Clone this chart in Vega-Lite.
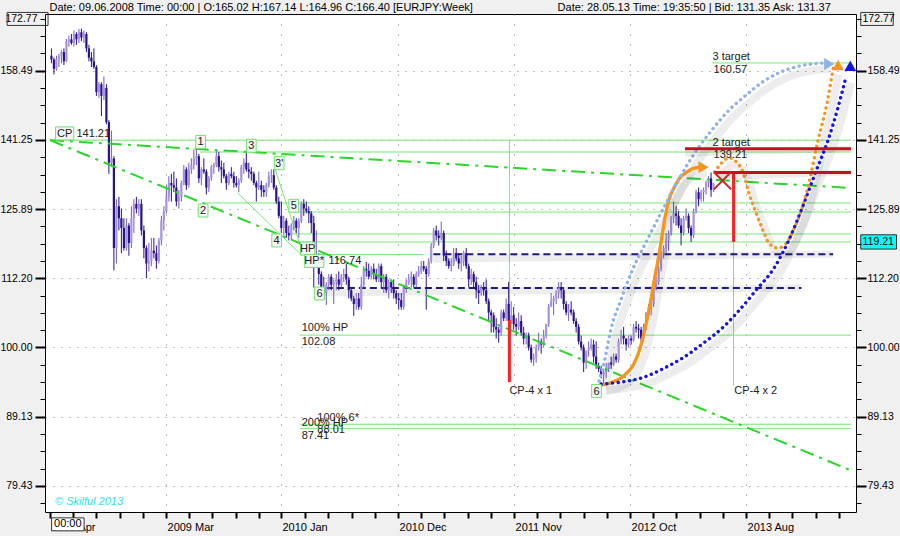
{
  "$schema": "https://vega.github.io/schema/vega-lite/v6.json",
  "width": 811,
  "height": 498,
  "autosize": "none",
  "padding": {"left": 45, "top": 14, "right": 44, "bottom": 24},
  "background": "#f0f0f0",
  "config": {
    "view": {"stroke": "#000000", "strokeWidth": 1, "fill": "#ffffff"},
    "font": "Liberation Sans",
    "text": {"font": "Liberation Sans", "fontSize": 11, "color": "#111111"}
  },
  "datasets": {
    "candles": [
      {"d":"2008-04-28","o":162.5,"h":164.5,"l":160.5,"c":161.5},
      {"d":"2008-05-05","o":161.5,"h":162,"l":157.5,"c":159},
      {"d":"2008-05-12","o":159,"h":162.5,"l":158.5,"c":161.5},
      {"d":"2008-05-19","o":161.5,"h":163,"l":159.5,"c":162.5},
      {"d":"2008-05-26","o":162.5,"h":164,"l":160.5,"c":163.5},
      {"d":"2008-06-02","o":163.5,"h":164.5,"l":160,"c":161},
      {"d":"2008-06-09","o":161,"h":167.1,"l":160.8,"c":166.4},
      {"d":"2008-06-16","o":166.4,"h":168,"l":165,"c":167},
      {"d":"2008-06-23","o":167,"h":168.5,"l":165.5,"c":166},
      {"d":"2008-06-30","o":166,"h":169.5,"l":165,"c":168.5},
      {"d":"2008-07-07","o":168.5,"h":169,"l":165.5,"c":167},
      {"d":"2008-07-14","o":167,"h":169.9,"l":166,"c":169},
      {"d":"2008-07-21","o":169,"h":170,"l":166.5,"c":167.5},
      {"d":"2008-07-28","o":167.5,"h":169.5,"l":166,"c":168.5},
      {"d":"2008-08-04","o":168.5,"h":169,"l":163.5,"c":164.5},
      {"d":"2008-08-11","o":164.5,"h":165.5,"l":161,"c":162},
      {"d":"2008-08-18","o":162,"h":163.5,"l":159.5,"c":161},
      {"d":"2008-08-25","o":161,"h":164.5,"l":159,"c":159.5},
      {"d":"2008-09-01","o":159.5,"h":160,"l":152,"c":153},
      {"d":"2008-09-08","o":153,"h":155.5,"l":151.5,"c":155},
      {"d":"2008-09-15","o":155,"h":155.5,"l":147,"c":152},
      {"d":"2008-09-22","o":152,"h":157,"l":151,"c":154},
      {"d":"2008-09-29","o":154,"h":155,"l":145,"c":145.5},
      {"d":"2008-10-06","o":145.5,"h":146,"l":133.5,"c":136},
      {"d":"2008-10-13","o":136,"h":143.5,"l":135,"c":137},
      {"d":"2008-10-20","o":137,"h":137.5,"l":113.7,"c":118},
      {"d":"2008-10-27","o":118,"h":128,"l":115,"c":126.5},
      {"d":"2008-11-03","o":126.5,"h":128.5,"l":121.5,"c":124},
      {"d":"2008-11-10","o":124,"h":126,"l":117,"c":122},
      {"d":"2008-11-17","o":122,"h":124,"l":117.5,"c":118},
      {"d":"2008-11-24","o":118,"h":124,"l":117.5,"c":122.5},
      {"d":"2008-12-01","o":122.5,"h":123,"l":116.5,"c":119},
      {"d":"2008-12-08","o":119,"h":126.5,"l":118,"c":124},
      {"d":"2008-12-15","o":124,"h":128,"l":121,"c":127},
      {"d":"2008-12-22","o":127,"h":128.5,"l":125,"c":126},
      {"d":"2008-12-29","o":126,"h":128,"l":124.5,"c":127},
      {"d":"2009-01-05","o":127,"h":128,"l":120.5,"c":121.5},
      {"d":"2009-01-12","o":121.5,"h":122.5,"l":116,"c":118},
      {"d":"2009-01-19","o":118,"h":118.5,"l":112.2,"c":115},
      {"d":"2009-01-26","o":115,"h":119,"l":113.5,"c":115.5},
      {"d":"2009-02-02","o":115.5,"h":120,"l":114.5,"c":117.5},
      {"d":"2009-02-09","o":117.5,"h":120,"l":116,"c":117},
      {"d":"2009-02-16","o":117,"h":118.5,"l":114,"c":115.5},
      {"d":"2009-02-23","o":115.5,"h":120,"l":115,"c":119.5},
      {"d":"2009-03-02","o":119.5,"h":124.5,"l":118.5,"c":123.5},
      {"d":"2009-03-09","o":123.5,"h":126.5,"l":121.5,"c":125.5},
      {"d":"2009-03-16","o":125.5,"h":131,"l":125,"c":128.5},
      {"d":"2009-03-23","o":128.5,"h":133,"l":127.5,"c":131.5},
      {"d":"2009-03-30","o":131.5,"h":133.5,"l":127.5,"c":131},
      {"d":"2009-04-06","o":131,"h":134,"l":129.5,"c":130.5},
      {"d":"2009-04-13","o":130.5,"h":132.5,"l":126.5,"c":127.5},
      {"d":"2009-04-20","o":127.5,"h":130,"l":126,"c":128.5},
      {"d":"2009-04-27","o":128.5,"h":132,"l":127.5,"c":131.5},
      {"d":"2009-05-04","o":131.5,"h":135.5,"l":131,"c":134.5},
      {"d":"2009-05-11","o":134.5,"h":135,"l":130,"c":131},
      {"d":"2009-05-18","o":131,"h":136,"l":130.5,"c":134.5},
      {"d":"2009-05-25","o":134.5,"h":137,"l":133.5,"c":135.5},
      {"d":"2009-06-01","o":135.5,"h":139,"l":134.5,"c":137},
      {"d":"2009-06-08","o":137,"h":139.5,"l":135.5,"c":137.5},
      {"d":"2009-06-15","o":137.5,"h":138,"l":131.5,"c":132.5},
      {"d":"2009-06-22","o":132.5,"h":135,"l":131,"c":134.5},
      {"d":"2009-06-29","o":134.5,"h":137,"l":133.5,"c":134},
      {"d":"2009-07-06","o":134,"h":134.5,"l":129,"c":130.5},
      {"d":"2009-07-13","o":130.5,"h":133,"l":129.5,"c":132.5},
      {"d":"2009-07-20","o":132.5,"h":135.5,"l":132,"c":135},
      {"d":"2009-07-27","o":135,"h":136,"l":133.5,"c":135.5},
      {"d":"2009-08-03","o":135.5,"h":139,"l":135,"c":137.5},
      {"d":"2009-08-10","o":137.5,"h":138.5,"l":134,"c":135},
      {"d":"2009-08-17","o":135,"h":136.5,"l":131.5,"c":134.5},
      {"d":"2009-08-24","o":134.5,"h":136,"l":132.5,"c":133},
      {"d":"2009-08-31","o":133,"h":133.5,"l":130,"c":131.5},
      {"d":"2009-09-07","o":131.5,"h":134,"l":131,"c":133.5},
      {"d":"2009-09-14","o":133.5,"h":135,"l":132.5,"c":133},
      {"d":"2009-09-21","o":133,"h":134,"l":130.5,"c":131.5},
      {"d":"2009-09-28","o":131.5,"h":133,"l":130.5,"c":131},
      {"d":"2009-10-05","o":131,"h":132.5,"l":129.5,"c":132},
      {"d":"2009-10-12","o":132,"h":135.5,"l":131.5,"c":135},
      {"d":"2009-10-19","o":135,"h":137,"l":133.5,"c":136},
      {"d":"2009-10-26","o":136,"h":138.8,"l":134,"c":134.5},
      {"d":"2009-11-02","o":134.5,"h":136,"l":132.5,"c":134},
      {"d":"2009-11-09","o":134,"h":135,"l":132,"c":133.5},
      {"d":"2009-11-16","o":133.5,"h":134,"l":131,"c":131.5},
      {"d":"2009-11-23","o":131.5,"h":132,"l":127.5,"c":130.5},
      {"d":"2009-11-30","o":130.5,"h":134,"l":130,"c":131},
      {"d":"2009-12-07","o":131,"h":132,"l":128.5,"c":130},
      {"d":"2009-12-14","o":130,"h":131,"l":128.5,"c":129.5},
      {"d":"2009-12-21","o":129.5,"h":131.5,"l":128.5,"c":131},
      {"d":"2009-12-28","o":131,"h":134,"l":130.5,"c":133},
      {"d":"2010-01-04","o":133,"h":134.5,"l":131.5,"c":133.2},
      {"d":"2010-01-11","o":133.2,"h":134.5,"l":130,"c":130.5},
      {"d":"2010-01-18","o":130.5,"h":131,"l":127,"c":127.5},
      {"d":"2010-01-25","o":127.5,"h":128.5,"l":124,"c":124.5},
      {"d":"2010-02-01","o":124.5,"h":127.5,"l":121,"c":122},
      {"d":"2010-02-08","o":122,"h":124.5,"l":120.5,"c":123.5},
      {"d":"2010-02-15","o":123.5,"h":124,"l":120,"c":121},
      {"d":"2010-02-22","o":121,"h":122.5,"l":119.5,"c":120.5},
      {"d":"2010-03-01","o":120.5,"h":123,"l":119.5,"c":122.5},
      {"d":"2010-03-08","o":122.5,"h":124.5,"l":121.5,"c":123.5},
      {"d":"2010-03-15","o":123.5,"h":124,"l":121,"c":122},
      {"d":"2010-03-22","o":122,"h":124,"l":120,"c":123.5},
      {"d":"2010-03-29","o":123.5,"h":127.5,"l":123,"c":127},
      {"d":"2010-04-05","o":127,"h":128,"l":124.5,"c":126},
      {"d":"2010-04-12","o":126,"h":127.5,"l":125,"c":125.5},
      {"d":"2010-04-19","o":125.5,"h":126.5,"l":123,"c":125},
      {"d":"2010-04-26","o":125,"h":125.5,"l":121,"c":123},
      {"d":"2010-05-03","o":123,"h":124.5,"l":110.5,"c":116},
      {"d":"2010-05-10","o":116,"h":121.5,"l":115,"c":116.5},
      {"d":"2010-05-17","o":116.5,"h":117,"l":111,"c":113},
      {"d":"2010-05-24","o":113,"h":113.5,"l":108.5,"c":110.5},
      {"d":"2010-05-31","o":110.5,"h":112.5,"l":108.5,"c":109.5},
      {"d":"2010-06-07","o":109.5,"h":111.5,"l":107.3,"c":111},
      {"d":"2010-06-14","o":111,"h":113,"l":110,"c":112.5},
      {"d":"2010-06-21","o":112.5,"h":113,"l":110,"c":111},
      {"d":"2010-06-28","o":111,"h":112,"l":107.5,"c":111.5},
      {"d":"2010-07-05","o":111.5,"h":113,"l":110,"c":112},
      {"d":"2010-07-12","o":112,"h":113.5,"l":110,"c":111},
      {"d":"2010-07-19","o":111,"h":113,"l":110.5,"c":112.5},
      {"d":"2010-07-26","o":112.5,"h":114,"l":111.5,"c":113},
      {"d":"2010-08-02","o":113,"h":115,"l":111,"c":112},
      {"d":"2010-08-09","o":112,"h":112.5,"l":108.5,"c":110},
      {"d":"2010-08-16","o":110,"h":110.5,"l":108,"c":108.5},
      {"d":"2010-08-23","o":108.5,"h":109,"l":105.4,"c":107.5},
      {"d":"2010-08-30","o":107.5,"h":109.5,"l":106.5,"c":108.5},
      {"d":"2010-09-06","o":108.5,"h":109.5,"l":106.5,"c":107},
      {"d":"2010-09-13","o":107,"h":112.5,"l":106.5,"c":111},
      {"d":"2010-09-20","o":111,"h":114.5,"l":110.5,"c":114},
      {"d":"2010-09-27","o":114,"h":115.3,"l":112.5,"c":113.6},
      {"d":"2010-10-04","o":113.6,"h":115,"l":112,"c":112.5},
      {"d":"2010-10-11","o":112.5,"h":114.5,"l":112,"c":114},
      {"d":"2010-10-18","o":114,"h":115,"l":112,"c":113},
      {"d":"2010-10-25","o":113,"h":114,"l":111.5,"c":112},
      {"d":"2010-11-01","o":112,"h":115,"l":111.5,"c":114.5},
      {"d":"2010-11-08","o":114.5,"h":115,"l":110.5,"c":111.5},
      {"d":"2010-11-15","o":111.5,"h":113,"l":109.5,"c":112.5},
      {"d":"2010-11-22","o":112.5,"h":113,"l":109.5,"c":110},
      {"d":"2010-11-29","o":110,"h":112,"l":108.5,"c":111.5},
      {"d":"2010-12-06","o":111.5,"h":112,"l":109.5,"c":110.5},
      {"d":"2010-12-13","o":110.5,"h":112,"l":108.5,"c":109.5},
      {"d":"2010-12-20","o":109.5,"h":110,"l":107.5,"c":108.5},
      {"d":"2010-12-27","o":108.5,"h":109.5,"l":106.5,"c":108.2},
      {"d":"2011-01-03","o":108.2,"h":109.5,"l":106.5,"c":107},
      {"d":"2011-01-10","o":107,"h":111,"l":106.5,"c":110.5},
      {"d":"2011-01-17","o":110.5,"h":112,"l":109.5,"c":111.5},
      {"d":"2011-01-24","o":111.5,"h":113,"l":111,"c":112},
      {"d":"2011-01-31","o":112,"h":113.5,"l":110.5,"c":112.5},
      {"d":"2011-02-07","o":112.5,"h":113,"l":110.5,"c":111},
      {"d":"2011-02-14","o":111,"h":113.5,"l":110.5,"c":113},
      {"d":"2011-02-21","o":113,"h":114.5,"l":112.5,"c":113.5},
      {"d":"2011-02-28","o":113.5,"h":115.5,"l":113,"c":114.5},
      {"d":"2011-03-07","o":114.5,"h":115.5,"l":113.5,"c":114},
      {"d":"2011-03-14","o":114,"h":114.5,"l":106.5,"c":113},
      {"d":"2011-03-21","o":113,"h":116,"l":112.5,"c":115.5},
      {"d":"2011-03-28","o":115.5,"h":119,"l":115,"c":118.5},
      {"d":"2011-04-04","o":118.5,"h":122,"l":118,"c":121.5},
      {"d":"2011-04-11","o":121.5,"h":122.5,"l":119.5,"c":120.5},
      {"d":"2011-04-18","o":120.5,"h":121.5,"l":118.5,"c":120},
      {"d":"2011-04-25","o":120,"h":123.3,"l":119.5,"c":121},
      {"d":"2011-05-02","o":121,"h":121.5,"l":115.5,"c":116.5},
      {"d":"2011-05-09","o":116.5,"h":117.5,"l":114.5,"c":115.5},
      {"d":"2011-05-16","o":115.5,"h":116,"l":114,"c":114.5},
      {"d":"2011-05-23","o":114.5,"h":116,"l":113.5,"c":115},
      {"d":"2011-05-30","o":115,"h":118,"l":114.5,"c":117},
      {"d":"2011-06-06","o":117,"h":118,"l":115.5,"c":116},
      {"d":"2011-06-13","o":116,"h":117,"l":114,"c":115},
      {"d":"2011-06-20","o":115,"h":116.5,"l":113.5,"c":115.5},
      {"d":"2011-06-27","o":115.5,"h":117.5,"l":114.5,"c":117},
      {"d":"2011-07-04","o":117,"h":118,"l":114,"c":114.5},
      {"d":"2011-07-11","o":114.5,"h":115,"l":110.5,"c":112},
      {"d":"2011-07-18","o":112,"h":114,"l":111,"c":113},
      {"d":"2011-07-25","o":113,"h":113.5,"l":110.5,"c":111.5},
      {"d":"2011-08-01","o":111.5,"h":112.5,"l":108.5,"c":110},
      {"d":"2011-08-08","o":110,"h":111,"l":107.5,"c":109.5},
      {"d":"2011-08-15","o":109.5,"h":111,"l":109,"c":110.5},
      {"d":"2011-08-22","o":110.5,"h":111.5,"l":109,"c":110},
      {"d":"2011-08-29","o":110,"h":112,"l":107.5,"c":108},
      {"d":"2011-09-05","o":108,"h":108.5,"l":104.5,"c":106},
      {"d":"2011-09-12","o":106,"h":106.5,"l":102.5,"c":105.5},
      {"d":"2011-09-19","o":105.5,"h":106,"l":102.5,"c":103.5},
      {"d":"2011-09-26","o":103.5,"h":105,"l":101.5,"c":103},
      {"d":"2011-10-03","o":103,"h":103.5,"l":100.8,"c":102.5},
      {"d":"2011-10-10","o":102.5,"h":106.5,"l":102,"c":106},
      {"d":"2011-10-17","o":106,"h":106.5,"l":104.5,"c":105},
      {"d":"2011-10-24","o":105,"h":108.5,"l":104.5,"c":107.5},
      {"d":"2011-10-31","o":107.5,"h":111.5,"l":103.5,"c":104.5},
      {"d":"2011-11-07","o":104.5,"h":108,"l":104,"c":105.5},
      {"d":"2011-11-14","o":105.5,"h":107,"l":103,"c":104},
      {"d":"2011-11-21","o":104,"h":105,"l":102,"c":103.5},
      {"d":"2011-11-28","o":103.5,"h":106,"l":103,"c":104.5},
      {"d":"2011-12-05","o":104.5,"h":105.5,"l":102,"c":102.5},
      {"d":"2011-12-12","o":102.5,"h":103.5,"l":100.5,"c":101.5},
      {"d":"2011-12-19","o":101.5,"h":102.5,"l":100.5,"c":102},
      {"d":"2011-12-26","o":102,"h":102.5,"l":99.5,"c":100},
      {"d":"2012-01-02","o":100,"h":100.5,"l":97.5,"c":98},
      {"d":"2012-01-09","o":98,"h":99,"l":97,"c":98.4},
      {"d":"2012-01-16","o":98.4,"h":100.5,"l":97.5,"c":100},
      {"d":"2012-01-23","o":100,"h":102.5,"l":99.5,"c":101},
      {"d":"2012-01-30","o":101,"h":101.5,"l":99,"c":100.5},
      {"d":"2012-02-06","o":100.5,"h":103,"l":100,"c":102},
      {"d":"2012-02-13","o":102,"h":104,"l":101.5,"c":104},
      {"d":"2012-02-20","o":104,"h":107.5,"l":103.5,"c":107},
      {"d":"2012-02-27","o":107,"h":109.5,"l":107,"c":108},
      {"d":"2012-03-05","o":108,"h":109,"l":105.5,"c":108.5},
      {"d":"2012-03-12","o":108.5,"h":110,"l":107.5,"c":109.5},
      {"d":"2012-03-19","o":109.5,"h":111.5,"l":108.5,"c":110.5},
      {"d":"2012-03-26","o":110.5,"h":111.5,"l":108.5,"c":110},
      {"d":"2012-04-02","o":110,"h":110.5,"l":106.5,"c":107.5},
      {"d":"2012-04-09","o":107.5,"h":108,"l":105.5,"c":106},
      {"d":"2012-04-16","o":106,"h":107.5,"l":104.5,"c":106.5},
      {"d":"2012-04-23","o":106.5,"h":108,"l":105.5,"c":106},
      {"d":"2012-04-30","o":106,"h":106.5,"l":104,"c":104.5},
      {"d":"2012-05-07","o":104.5,"h":105,"l":102.5,"c":103.5},
      {"d":"2012-05-14","o":103.5,"h":104,"l":100.5,"c":101},
      {"d":"2012-05-21","o":101,"h":102,"l":99.5,"c":100},
      {"d":"2012-05-28","o":100,"h":100.5,"l":96,"c":97.5},
      {"d":"2012-06-04","o":97.5,"h":99.5,"l":96.5,"c":99.5},
      {"d":"2012-06-11","o":99.5,"h":101,"l":98.5,"c":100},
      {"d":"2012-06-18","o":100,"h":101.5,"l":99.5,"c":100.5},
      {"d":"2012-06-25","o":100.5,"h":101.3,"l":97.5,"c":98.5},
      {"d":"2012-07-02","o":98.5,"h":101,"l":96.5,"c":97},
      {"d":"2012-07-09","o":97,"h":97.5,"l":96,"c":96.5},
      {"d":"2012-07-16","o":96.5,"h":97,"l":95,"c":95.5},
      {"d":"2012-07-23","o":95.5,"h":96.5,"l":94.1,"c":96},
      {"d":"2012-07-30","o":96,"h":97.5,"l":95,"c":96.5},
      {"d":"2012-08-06","o":96.5,"h":97.5,"l":96,"c":97.5},
      {"d":"2012-08-13","o":97.5,"h":98.5,"l":96.5,"c":97.2},
      {"d":"2012-08-20","o":97.2,"h":99,"l":97,"c":98.5},
      {"d":"2012-08-27","o":98.5,"h":99,"l":97.5,"c":98},
      {"d":"2012-09-03","o":98,"h":101.5,"l":97.5,"c":101},
      {"d":"2012-09-10","o":101,"h":103,"l":100.5,"c":102},
      {"d":"2012-09-17","o":102,"h":103.5,"l":100.5,"c":101.5},
      {"d":"2012-09-24","o":101.5,"h":101.5,"l":99.5,"c":100.5},
      {"d":"2012-10-01","o":100.5,"h":102,"l":100,"c":101.5},
      {"d":"2012-10-08","o":101.5,"h":102,"l":100.5,"c":101.2},
      {"d":"2012-10-15","o":101.2,"h":104,"l":101,"c":103.5},
      {"d":"2012-10-22","o":103.5,"h":104.5,"l":102.5,"c":103.2},
      {"d":"2012-10-29","o":103.2,"h":104,"l":101.5,"c":103},
      {"d":"2012-11-05","o":103,"h":103.5,"l":101,"c":101.5},
      {"d":"2012-11-12","o":101.5,"h":104,"l":101,"c":103.5},
      {"d":"2012-11-19","o":103.5,"h":106,"l":103,"c":106},
      {"d":"2012-11-26","o":106,"h":107.5,"l":105.5,"c":107},
      {"d":"2012-12-03","o":107,"h":108,"l":105.5,"c":107.5},
      {"d":"2012-12-10","o":107.5,"h":111,"l":107,"c":110.5},
      {"d":"2012-12-17","o":110.5,"h":112.5,"l":110,"c":111.5},
      {"d":"2012-12-24","o":111.5,"h":114.5,"l":111,"c":114},
      {"d":"2012-12-31","o":114,"h":117.5,"l":113.5,"c":117},
      {"d":"2013-01-07","o":117,"h":118.5,"l":116,"c":118},
      {"d":"2013-01-14","o":118,"h":121,"l":117,"c":119.5},
      {"d":"2013-01-21","o":119.5,"h":121.5,"l":117.5,"c":121},
      {"d":"2013-01-28","o":121,"h":124.5,"l":120.5,"c":124},
      {"d":"2013-02-04","o":124,"h":127.5,"l":123,"c":125},
      {"d":"2013-02-11","o":125,"h":126.5,"l":122.5,"c":124.5},
      {"d":"2013-02-18","o":124.5,"h":125.5,"l":122,"c":122.5},
      {"d":"2013-02-25","o":122.5,"h":124,"l":118.5,"c":121},
      {"d":"2013-03-04","o":121,"h":124.5,"l":120.5,"c":124},
      {"d":"2013-03-11","o":124,"h":126,"l":123.5,"c":124.5},
      {"d":"2013-03-18","o":124.5,"h":125,"l":121,"c":122},
      {"d":"2013-03-25","o":122,"h":122.5,"l":119.2,"c":120.5},
      {"d":"2013-04-01","o":120.5,"h":126,"l":120,"c":125.5},
      {"d":"2013-04-08","o":125.5,"h":130,"l":125,"c":129.5},
      {"d":"2013-04-15","o":129.5,"h":130.5,"l":126.5,"c":128},
      {"d":"2013-04-22","o":128,"h":130,"l":127.5,"c":129.5},
      {"d":"2013-04-29","o":129.5,"h":130.5,"l":127.5,"c":130},
      {"d":"2013-05-06","o":130,"h":132,"l":129,"c":131.5},
      {"d":"2013-05-13","o":131.5,"h":133,"l":130.5,"c":132.5},
      {"d":"2013-05-20","o":132.5,"h":133.8,"l":128.5,"c":130},
      {"d":"2013-05-27","o":130,"h":131.5,"l":129.5,"c":131.35}
    ],
    "greenThin": [
      {"d1":"2008-04-24","p1":141.21,"d2":"2014-06-16","p2":141.21},
      {"d1":"2009-06-18","p1":138.45,"d2":"2014-06-16","p2":138.45},
      {"d1":"2009-06-27","p1":127.2,"d2":"2014-06-16","p2":127.2},
      {"d1":"2010-03-08","p1":125.3,"d2":"2014-06-16","p2":125.3},
      {"d1":"2010-02-24","p1":120.8,"d2":"2014-06-16","p2":120.8},
      {"d1":"2010-03-25","p1":119.2,"d2":"2014-06-16","p2":119.2},
      {"d1":"2010-03-30","p1":116.74,"d2":"2011-03-06","p2":116.74},
      {"d1":"2010-03-25","p1":102.08,"d2":"2014-06-16","p2":102.08},
      {"d1":"2010-03-25","p1":88.01,"d2":"2014-06-16","p2":88.01},
      {"d1":"2010-03-25","p1":87.41,"d2":"2014-06-16","p2":87.41},
      {"d1":"2013-05-22","p1":160.57,"d2":"2014-06-16","p2":160.57},
      {"d1":"2011-11-02","p1":141.21,"d2":"2011-11-02","p2":94.7},
      {"d1":"2013-07-22","p1":119.2,"d2":"2013-07-22","p2":93.9},
      {"d1":"2009-10-02","p1":129.3,"d2":"2010-03-30","p2":116.6},
      {"d1":"2010-01-15","p1":134.4,"d2":"2010-03-30","p2":117.7}
    ],
    "greenDD": [
      {"d1":"2008-04-24","p1":141.21,"d2":"2014-06-16","p2":130.4},
      {"d1":"2008-04-24","p1":141.21,"d2":"2014-06-16","p2":81.5}
    ],
    "navy": [
      {"d1":"2011-04-03","p1":116.8,"d2":"2014-04-27","p2":116.8},
      {"d1":"2010-05-06","p1":110.4,"d2":"2014-01-28","p2":110.4}
    ],
    "redV": [
      {"d1":"2011-11-02","p1":104.7,"d2":"2011-11-02","p2":94.4},
      {"d1":"2013-07-22","p1":133.8,"d2":"2013-07-22","p2":119.2}
    ],
    "redH": [
      {"d1":"2013-03-08","p1":139.21,"d2":"2014-06-16","p2":139.21},
      {"d1":"2013-05-30","p1":133.8,"d2":"2014-06-16","p2":133.8}
    ],
    "curves": [
      {"c":"orange","d":"2012-07-16","p":93.96},
      {"c":"orange","d":"2012-08-18","p":94.42},
      {"c":"orange","d":"2012-09-20","p":95.53},
      {"c":"orange","d":"2012-10-18","p":97.6},
      {"c":"orange","d":"2012-11-03","p":100.08},
      {"c":"orange","d":"2012-11-17","p":103.47},
      {"c":"orange","d":"2012-12-01","p":107.7},
      {"c":"orange","d":"2012-12-12","p":111.9},
      {"c":"orange","d":"2012-12-26","p":117.0},
      {"c":"orange","d":"2013-01-03","p":120.6},
      {"c":"orange","d":"2013-01-11","p":124.1},
      {"c":"orange","d":"2013-01-22","p":127.8},
      {"c":"orange","d":"2013-02-05","p":130.4},
      {"c":"orange","d":"2013-02-22","p":132.6},
      {"c":"orange","d":"2013-03-13","p":133.9},
      {"c":"orange","d":"2013-04-04","p":134.8},
      {"c":"orange","d":"2013-04-24","p":135.0},
      {"c":"lightblue","d":"2012-07-10","p":94.58},
      {"c":"lightblue","d":"2012-07-26","p":97.94},
      {"c":"lightblue","d":"2012-08-12","p":102.95},
      {"c":"lightblue","d":"2012-09-09","p":108.2},
      {"c":"lightblue","d":"2012-10-12","p":113.8},
      {"c":"lightblue","d":"2012-11-22","p":119.6},
      {"c":"lightblue","d":"2013-01-08","p":126.3},
      {"c":"lightblue","d":"2013-02-22","p":132.8},
      {"c":"lightblue","d":"2013-04-10","p":138.9},
      {"c":"lightblue","d":"2013-05-27","p":144.1},
      {"c":"lightblue","d":"2013-07-10","p":148.5},
      {"c":"lightblue","d":"2013-08-26","p":152.2},
      {"c":"lightblue","d":"2013-10-12","p":155.6},
      {"c":"lightblue","d":"2013-11-25","p":157.9},
      {"c":"lightblue","d":"2014-01-12","p":159.5},
      {"c":"lightblue","d":"2014-02-28","p":160.3},
      {"c":"lightblue","d":"2014-04-05","p":160.6},
      {"c":"orangedot","d":"2013-05-30","p":133.9},
      {"c":"orangedot","d":"2013-06-18","p":135.9},
      {"c":"orangedot","d":"2013-07-10","p":137.1},
      {"c":"orangedot","d":"2013-07-30","p":136.2},
      {"c":"orangedot","d":"2013-08-18","p":133.7},
      {"c":"orangedot","d":"2013-09-03","p":129.3},
      {"c":"orangedot","d":"2013-09-23","p":125.1},
      {"c":"orangedot","d":"2013-10-12","p":121.6},
      {"c":"orangedot","d":"2013-10-29","p":119.0},
      {"c":"orangedot","d":"2013-11-23","p":118.0},
      {"c":"orangedot","d":"2013-12-15","p":118.8},
      {"c":"orangedot","d":"2014-01-06","p":121.6},
      {"c":"orangedot","d":"2014-01-31","p":126.3},
      {"c":"orangedot","d":"2014-02-22","p":132.8},
      {"c":"orangedot","d":"2014-03-16","p":141.25},
      {"c":"orangedot","d":"2014-04-10","p":150.2},
      {"c":"orangedot","d":"2014-04-27","p":159.1},
      {"c":"blue","d":"2012-07-16","p":94.1},
      {"c":"blue","d":"2012-09-09","p":94.4},
      {"c":"blue","d":"2012-11-14","p":95.2},
      {"c":"blue","d":"2013-01-08","p":96.6},
      {"c":"blue","d":"2013-03-05","p":98.4},
      {"c":"blue","d":"2013-04-29","p":100.75},
      {"c":"blue","d":"2013-06-24","p":103.5},
      {"c":"blue","d":"2013-08-07","p":106.4},
      {"c":"blue","d":"2013-09-23","p":110.0},
      {"c":"blue","d":"2013-11-12","p":114.1},
      {"c":"blue","d":"2013-12-24","p":119.6},
      {"c":"blue","d":"2014-01-31","p":126.3},
      {"c":"blue","d":"2014-03-08","p":133.7},
      {"c":"blue","d":"2014-04-13","p":141.25},
      {"c":"blue","d":"2014-05-11","p":149.2},
      {"c":"blue","d":"2014-06-02","p":156.9}
    ],
    "arrows": [
      {"c":"orange","d":"2013-04-29","p":135.0,"dir":"right"},
      {"c":"lightblue","d":"2014-04-16","p":160.3,"dir":"right"},
      {"c":"orangedot","d":"2014-05-11","p":160.0,"dir":"up"},
      {"c":"blue","d":"2014-06-14","p":159.8,"dir":"up"}
    ],
    "cross": [{"d":"2013-06-21","p":132.0}],
    "boxes": [
      {"d":"2008-06-04","p":142.8,"t":"CP","k":"cp"},
      {"d":"2009-06-20","p":140.8,"t":"1","k":"small"},
      {"d":"2009-11-09","p":139.9,"t":"3","k":"small"},
      {"d":"2010-01-26","p":135.9,"t":"3'","k":"small"},
      {"d":"2009-06-27","p":125.6,"t":"2","k":"small"},
      {"d":"2010-03-08","p":126.6,"t":"5","k":"small"},
      {"d":"2010-01-19","p":119.5,"t":"4","k":"small"},
      {"d":"2010-04-16","p":117.9,"t":"HP","k":"hp"},
      {"d":"2010-05-04","p":115.5,"t":"HP*","k":"hps"},
      {"d":"2010-05-19","p":109.4,"t":"6","k":"small"},
      {"d":"2012-07-03","p":93.0,"t":"6","k":"small"}
    ],
    "texts": [
      {"d":"2008-07-07","p":142.7,"t":"141.21"},
      {"d":"2010-06-13","p":115.5,"t":"116.74"},
      {"d":"2010-03-30","p":103.3,"t":"100% HP"},
      {"d":"2010-03-30","p":100.9,"t":"102.08"},
      {"d":"2010-05-13","p":89.0,"t":"100% 6*"},
      {"d":"2010-03-30","p":88.13,"t":"200% HP"},
      {"d":"2010-05-13","p":87.2,"t":"88.01"},
      {"d":"2010-03-30","p":86.3,"t":"87.41"},
      {"d":"2011-11-02","p":93.0,"t":"CP-4 x 1"},
      {"d":"2013-07-24","p":93.0,"t":"CP-4 x 2"},
      {"d":"2013-05-24","p":140.55,"t":"2 target"},
      {"d":"2013-05-27","p":137.65,"t":"139.21"},
      {"d":"2013-05-24","p":162.1,"t":"3 target"},
      {"d":"2013-05-27","p":158.7,"t":"160.57"}
    ],
    "credit": [{"d":"2008-05-08","p":77.3,"t":"© Skilful 2013"}],
    "frameBoxes": [
      {"d":"2008-04-24","p":172.77,"k":"L","t":""},
      {"d":"2014-06-16","p":172.77,"k":"R","t":""},
      {"d":"2014-06-16","p":119.21,"k":"C","t":""},
      {"d":"2008-06-13","p":74.5,"k":"T","t":"00:00"}
    ]
  },
  "resolve": {
    "axis": {"x": "independent", "y": "independent"},
    "scale": {"color": "independent", "shape": "independent", "strokeDash": "independent"}
  },
  "layer": [
    {
      "data": {"name": "greenThin"},
      "mark": {"type": "rule", "color": "#74e874", "strokeWidth": 1},
      "encoding": {
        "x": {"field": "d1", "type": "temporal", "axis": null},
        "x2": {"field": "d2"},
        "y": {"field": "p1", "type": "quantitative", "axis": null},
        "y2": {"field": "p2"}
      }
    },
    {
      "data": {"name": "navy"},
      "mark": {"type": "rule", "color": "#000000", "opacity": 0.07, "strokeWidth": 7, "yOffset": 5},
      "encoding": {
        "x": {"field": "d1", "type": "temporal", "axis": null},
        "x2": {"field": "d2"},
        "y": {"field": "p1", "type": "quantitative", "axis": null},
        "y2": {"field": "p2"}
      }
    },
    {
      "data": {"name": "navy"},
      "mark": {"type": "rule", "color": "#1b1b80", "strokeWidth": 2, "strokeDash": [7, 4]},
      "encoding": {
        "x": {"field": "d1", "type": "temporal", "axis": null},
        "x2": {"field": "d2"},
        "y": {"field": "p1", "type": "quantitative", "axis": null},
        "y2": {"field": "p2"}
      }
    },
    {
      "data": {"name": "candles"},
      "mark": {"type": "rule", "strokeWidth": 1},
      "encoding": {
        "x": {
          "field": "d", "type": "temporal",
          "scale": {"type": "utc", "domain": [{"year": 2008, "month": 4, "date": 24, "utc": true}, {"year": 2014, "month": 6, "date": 16, "utc": true}]},
          "axis": {
            "orient": "bottom", "title": null, "domain": false, "zindex": 0,
            "values": [
              {"year":2008,"month":4,"date":24,"utc":true},{"year":2008,"month":6,"date":28,"utc":true},{"year":2008,"month":9,"date":1,"utc":true},{"year":2008,"month":11,"date":5,"utc":true},{"year":2009,"month":1,"date":9,"utc":true},
              {"year":2009,"month":3,"date":15,"utc":true},{"year":2009,"month":5,"date":19,"utc":true},{"year":2009,"month":7,"date":23,"utc":true},{"year":2009,"month":9,"date":26,"utc":true},{"year":2009,"month":11,"date":30,"utc":true},
              {"year":2010,"month":1,"date":31,"utc":true},{"year":2010,"month":4,"date":9,"utc":true},{"year":2010,"month":6,"date":13,"utc":true},{"year":2010,"month":8,"date":17,"utc":true},{"year":2010,"month":10,"date":21,"utc":true},
              {"year":2010,"month":12,"date":25,"utc":true},{"year":2011,"month":2,"date":28,"utc":true},{"year":2011,"month":5,"date":4,"utc":true},{"year":2011,"month":7,"date":8,"utc":true},{"year":2011,"month":9,"date":11,"utc":true},
              {"year":2011,"month":11,"date":15,"utc":true},{"year":2012,"month":1,"date":19,"utc":true},{"year":2012,"month":3,"date":24,"utc":true},{"year":2012,"month":5,"date":28,"utc":true},{"year":2012,"month":8,"date":1,"utc":true},
              {"year":2012,"month":10,"date":5,"utc":true},{"year":2012,"month":12,"date":9,"utc":true},{"year":2013,"month":2,"date":12,"utc":true},{"year":2013,"month":4,"date":18,"utc":true},{"year":2013,"month":6,"date":22,"utc":true},
              {"year":2013,"month":8,"date":26,"utc":true},{"year":2013,"month":10,"date":30,"utc":true},{"year":2014,"month":1,"date":3,"utc":true},{"year":2014,"month":3,"date":9,"utc":true},{"year":2014,"month":5,"date":13,"utc":true}
            ],
            "labelExpr": "indexof(['2008-04-24','2009-03-15','2010-01-31','2010-12-25','2011-11-15','2012-10-05','2013-08-26'], utcFormat(datum.value, '%Y-%m-%d')) >= 0 ? utcFormat(datum.value, '%Y %b') : ''",
            "labelAlign": "left", "labelBaseline": "top", "labelPadding": 3, "labelOffset": 1,
            "labelFont": "Liberation Sans", "labelFontSize": 11, "labelColor": "#000000",
            "labelOverlap": false, "labelFlush": false, "labelBound": false,
            "tickSize": 6, "tickWidth": 2, "tickColor": "#000000",
            "grid": true, "gridColor": "#777777", "gridDash": [1, 9], "gridWidth": 1,
            "gridOpacity": {"condition": {"test": "indexof(['2009-03-15','2010-01-31','2010-12-25','2011-11-15','2012-10-05','2013-08-26'], utcFormat(datum.value, '%Y-%m-%d')) >= 0", "value": 1}, "value": 0}
          }
        },
        "y": {
          "field": "l", "type": "quantitative",
          "scale": {"type": "log", "domain": [76.05, 174.2], "nice": false, "zero": false},
          "axis": {
            "orient": "left", "title": null, "domain": false, "zindex": 0,
            "values": [77.18, 79.43, 81.75, 84.14, 86.6, 89.13, 91.73, 94.41, 97.16, 100, 102.92, 105.93, 109.02, 112.2, 115.48, 118.85, 122.32, 125.89, 129.57, 133.35, 137.24, 141.25, 145.38, 149.62, 154.0, 158.49, 163.13, 167.88, 172.77],
            "labelExpr": "(datum.value > 170 || abs(log(datum.value)/LN10*20 - round(log(datum.value)/LN10*20)) < 0.02) ? format(datum.value, '.2f') : ''",
            "labelFont": "Liberation Sans", "labelFontSize": 10.5, "labelColor": "#000000", "labelPadding": 3,
            "labelOverlap": false, "labelBound": false, "labelFlush": false,
            "tickColor": "#000000",
            "tickSize": {"condition": {"test": "abs(log(datum.value)/LN10*20 - round(log(datum.value)/LN10*20)) < 0.02", "value": 10}, "value": 5},
            "tickWidth": {"condition": {"test": "abs(log(datum.value)/LN10*20 - round(log(datum.value)/LN10*20)) < 0.02", "value": 2}, "value": 1},
            "grid": true, "gridColor": "#777777", "gridDash": [1, 7], "gridWidth": 1,
            "gridOpacity": {"condition": {"test": "abs(log(datum.value)/LN10*20 - round(log(datum.value)/LN10*20)) < 0.02", "value": 1}, "value": 0}
          }
        },
        "y2": {"field": "h"},
        "color": {"condition": {"test": "datum.c >= datum.o", "value": "#7558c2"}, "value": "#2a128c"}
      }
    },
    {
      "data": {"name": "candles"},
      "mark": {"type": "bar", "size": 2.2},
      "encoding": {
        "x": {
          "field": "d", "type": "temporal",
          "axis": {
            "orient": "top", "zindex": 1,
            "values": [{"year": 2014, "month": 4, "date": 19, "utc": true}],
            "labelExpr": "'Date: 28.05.13 Time: 19:35:50 | Bid: 131.35  Ask: 131.37'",
            "labelAlign": "right", "labelBaseline": "alphabetic", "labelPadding": 4, "labelLimit": 0,
            "labelFont": "Liberation Sans", "labelFontSize": 11, "labelColor": "#000000",
            "labelOverlap": false, "labelFlush": false, "labelBound": false,
            "ticks": false, "tickSize": 0, "domain": false, "grid": false,
            "title": "Date: 09.06.2008  Time: 00:00 | O:165.02  H:167.14  L:164.96  C:166.40   [EURJPY:Week]",
            "titleX": 4, "titleY": -4, "titleAlign": "left", "titleAnchor": "start", "titleBaseline": "alphabetic", "titleLimit": 0,
            "titleFont": "Liberation Sans", "titleFontSize": 11, "titleFontWeight": "normal", "titleColor": "#000000"
          }
        },
        "y": {
          "field": "o", "type": "quantitative",
          "axis": {
            "orient": "right", "title": null, "domain": false, "zindex": 1, "grid": false,
            "values": [77.18, 79.43, 81.75, 84.14, 86.6, 89.13, 91.73, 94.41, 97.16, 100, 102.92, 105.93, 109.02, 112.2, 115.48, 118.85, 119.21, 122.32, 125.89, 129.57, 133.35, 137.24, 141.25, 145.38, 149.62, 154.0, 158.49, 163.13, 167.88, 172.77],
            "labelExpr": "(datum.value > 170 || (datum.value > 119.1 && datum.value < 119.3) || abs(log(datum.value)/LN10*20 - round(log(datum.value)/LN10*20)) < 0.02) ? format(datum.value, '.2f') : ''",
            "labelFont": "Liberation Sans", "labelFontSize": 10.5, "labelColor": "#000000", "labelPadding": 1,
            "labelOverlap": false, "labelBound": false, "labelFlush": false,
            "tickColor": "#000000",
            "tickOpacity": {"condition": {"test": "datum.value > 119.1 && datum.value < 119.3", "value": 0}, "value": 1},
            "tickSize": {"condition": {"test": "abs(log(datum.value)/LN10*20 - round(log(datum.value)/LN10*20)) < 0.02", "value": 10}, "value": 5},
            "tickWidth": {"condition": {"test": "abs(log(datum.value)/LN10*20 - round(log(datum.value)/LN10*20)) < 0.02", "value": 2}, "value": 1}
          }
        },
        "y2": {"field": "c"},
        "color": {"condition": {"test": "datum.c >= datum.o", "value": "#a893da"}, "value": "#2a128c"}
      }
    },
    {
      "data": {"name": "greenDD"},
      "mark": {"type": "rule", "color": "#2ad62a", "strokeWidth": 2, "strokeDash": [14, 6, 3, 6]},
      "encoding": {
        "x": {"field": "d1", "type": "temporal", "axis": null},
        "x2": {"field": "d2"},
        "y": {"field": "p1", "type": "quantitative", "axis": null},
        "y2": {"field": "p2"}
      }
    },
    {
      "data": {"name": "curves"},
      "mark": {"type": "line", "interpolate": "monotone", "color": "#000000", "opacity": 0.07, "strokeWidth": 8, "xOffset": 5, "yOffset": 6},
      "encoding": {
        "x": {"field": "d", "type": "temporal", "axis": null},
        "y": {"field": "p", "type": "quantitative", "axis": null},
        "detail": {"field": "c"}
      }
    },
    {
      "data": {"name": "curves"},
      "mark": {"type": "line", "interpolate": "monotone", "strokeWidth": 3.4, "strokeCap": "round"},
      "encoding": {
        "x": {"field": "d", "type": "temporal", "axis": null},
        "y": {"field": "p", "type": "quantitative", "axis": null},
        "color": {"field": "c", "type": "nominal", "legend": null,
          "scale": {"domain": ["orange", "lightblue", "orangedot", "blue"], "range": ["#f7941d", "#8db3e6", "#f7941d", "#1414e8"]}},
        "strokeDash": {"field": "c", "type": "nominal", "legend": null,
          "scale": {"domain": ["orange", "lightblue", "orangedot", "blue"], "range": [[1, 0], [0.1, 5.6], [0.1, 5.6], [0.1, 5.6]]}}
      }
    },
    {
      "data": {"name": "arrows"},
      "mark": {"type": "point", "filled": true, "size": 140, "opacity": 1},
      "encoding": {
        "x": {"field": "d", "type": "temporal", "axis": null},
        "y": {"field": "p", "type": "quantitative", "axis": null},
        "color": {"field": "c", "type": "nominal", "legend": null,
          "scale": {"domain": ["orange", "lightblue", "orangedot", "blue"], "range": ["#f7941d", "#8db3e6", "#f7941d", "#1414e8"]}},
        "shape": {"field": "dir", "type": "nominal", "legend": null,
          "scale": {"domain": ["right", "up"], "range": ["triangle-right", "triangle-up"]}}
      }
    },
    {
      "data": {"name": "redV"},
      "mark": {"type": "rule", "color": "#ff2020", "strokeWidth": 3},
      "encoding": {
        "x": {"field": "d1", "type": "temporal", "axis": null},
        "x2": {"field": "d2"},
        "y": {"field": "p1", "type": "quantitative", "axis": null},
        "y2": {"field": "p2"}
      }
    },
    {
      "data": {"name": "redH"},
      "mark": {"type": "rule", "color": "#000000", "opacity": 0.07, "strokeWidth": 6, "yOffset": 5},
      "encoding": {
        "x": {"field": "d1", "type": "temporal", "axis": null},
        "x2": {"field": "d2"},
        "y": {"field": "p1", "type": "quantitative", "axis": null},
        "y2": {"field": "p2"}
      }
    },
    {
      "data": {"name": "redH"},
      "mark": {"type": "rule", "color": "#c4101c", "strokeWidth": 3},
      "encoding": {
        "x": {"field": "d1", "type": "temporal", "axis": null},
        "x2": {"field": "d2"},
        "y": {"field": "p1", "type": "quantitative", "axis": null},
        "y2": {"field": "p2"}
      }
    },
    {
      "data": {"name": "cross"},
      "mark": {"type": "point", "shape": "M-1,-1L1,1M-1,1L1,-1", "size": 300, "filled": false, "stroke": "#c82828", "strokeWidth": 2, "opacity": 1},
      "encoding": {
        "x": {"field": "d", "type": "temporal", "axis": null},
        "y": {"field": "p", "type": "quantitative", "axis": null}
      }
    },
    {
      "data": {"name": "boxes"},
      "mark": {"type": "point", "filled": true, "size": 169, "fill": "#f4f4f4", "stroke": "#6fe46f", "strokeWidth": 1, "opacity": 1},
      "encoding": {
        "x": {"field": "d", "type": "temporal", "axis": null},
        "y": {"field": "p", "type": "quantitative", "axis": null},
        "shape": {"field": "k", "type": "nominal", "legend": null,
          "scale": {"domain": ["small", "cp", "hp", "hps"], "range": ["M-0.75,-1H0.75V1H-0.75Z", "M-1.4,-1H1.4V1H-1.4Z", "M-1.1,-1H1.1V1H-1.1Z", "M-1.5,-1H1.5V1H-1.5Z"]}}
      }
    },
    {
      "data": {"name": "boxes"},
      "mark": {"type": "text", "align": "center", "baseline": "middle", "fontSize": 11, "color": "#222222", "dy": 0.5},
      "encoding": {
        "x": {"field": "d", "type": "temporal", "axis": null},
        "y": {"field": "p", "type": "quantitative", "axis": null},
        "text": {"field": "t"}
      }
    },
    {
      "data": {"name": "texts"},
      "mark": {"type": "text", "align": "left", "baseline": "middle", "fontSize": 11, "color": "#222222"},
      "encoding": {
        "x": {"field": "d", "type": "temporal", "axis": null},
        "y": {"field": "p", "type": "quantitative", "axis": null},
        "text": {"field": "t"}
      }
    },
    {
      "data": {"name": "credit"},
      "mark": {"type": "text", "align": "left", "baseline": "middle", "fontSize": 11, "fontStyle": "italic", "color": "#2ee0f0"},
      "encoding": {
        "x": {"field": "d", "type": "temporal", "axis": null},
        "y": {"field": "p", "type": "quantitative", "axis": null},
        "text": {"field": "t"}
      }
    },
    {
      "data": {"name": "frameBoxes"},
      "mark": {"type": "point", "filled": true, "size": 169, "stroke": "#333333", "strokeWidth": 1, "opacity": 1},
      "encoding": {
        "x": {"field": "d", "type": "temporal", "axis": null},
        "y": {"field": "p", "type": "quantitative", "axis": null},
        "fill": {"condition": [{"test": "datum.k == 'C'", "value": "#00ffff"}, {"test": "datum.k == 'T'", "value": "#ffffff"}], "value": "transparent"},
        "shape": {"field": "k", "type": "nominal", "legend": null,
          "scale": {"domain": ["L", "R", "C", "T"], "range": ["M-0.3,-1H-6.6V1H-0.3Z", "M1.5,-1H6.5V1H1.5Z", "M1.5,-1.1H7V1.1H1.5Z", "M-2.5,-1H2.5V1H-2.5Z"]}}
      }
    },
    {
      "data": {"name": "frameBoxes"},
      "mark": {"type": "text", "align": "center", "baseline": "middle", "fontSize": 11, "color": "#000000"},
      "encoding": {
        "x": {"field": "d", "type": "temporal", "axis": null},
        "y": {"field": "p", "type": "quantitative", "axis": null},
        "text": {"field": "t"}
      }
    }
  ]
}
